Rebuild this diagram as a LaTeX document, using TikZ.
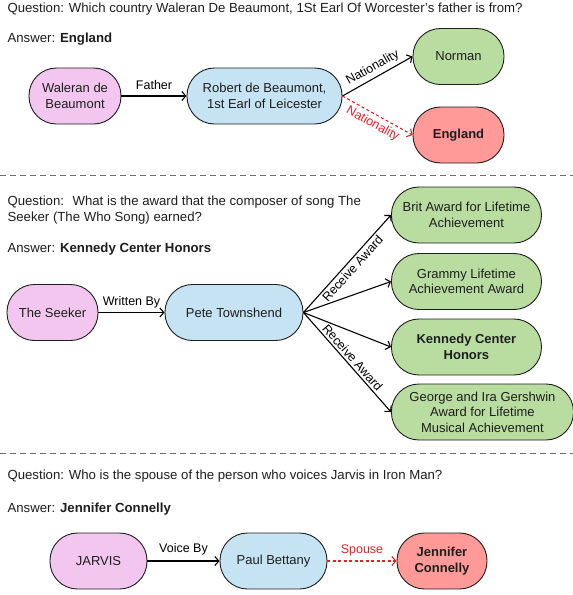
\documentclass[tikz,border=0pt]{standalone}
\usepackage{fontspec}
\setmainfont{Liberation Sans}
\usetikzlibrary{positioning,arrows.meta}

\definecolor{pinkfill}{RGB}{242,198,238}
\definecolor{bluefill}{RGB}{197,227,243}
\definecolor{greenfill}{RGB}{185,220,160}
\definecolor{redfill}{RGB}{255,154,152}
\definecolor{ansred}{RGB}{232,32,38}
\definecolor{sepgray}{RGB}{110,110,110}
\definecolor{inkgray}{RGB}{30,30,30}

\tikzset{
  entity/.style={draw=inkgray, line width=0.9pt, rounded corners=27.5pt,
    minimum height=56pt, inner sep=2pt, align=center, text=inkgray,
    font=\fontsize{13}{15.5}\selectfont},
  qtext/.style={anchor=west, inner sep=0pt, align=left, text=inkgray,
    font=\fontsize{13.2}{16}\selectfont},
  guess/.style={ansred, dash pattern=on 3pt off 2.5pt},
  divider/.style={sepgray, line width=1pt, dash pattern=on 6pt off 4pt}
}

\begin{document}
\begin{tikzpicture}[x=1pt, y=-1pt, line width=1.1pt,
    >={Straight Barb[length=4pt,width=9pt]},
    font=\fontsize{12.5}{15.5}\selectfont]
  \useasboundingbox (0,0) rectangle (573,595);

  % first question
  \node[qtext] (q1) at (7,9) {Question: Which country Waleran De Beaumont, 1St Earl Of Worcester's father is from?};
  \node[qtext] (a1) at (7,39) {Answer: \textbf{England}};

  \node[entity, fill=pinkfill, minimum width=92pt] (waleran) at (75,96) {Waleran de\\Beaumont};
  \node[entity, fill=bluefill, minimum width=155pt] (robert) [right of=waleran, node distance=189.5pt] {Robert de Beaumont,\\1st Earl of Leicester};
  \node[entity, fill=greenfill, minimum width=91pt] (norman) at (458.5,56.5) {Norman};
  \node[entity, fill=redfill, minimum width=91pt] (england) [below of=norman, node distance=78.5pt] {\textbf{England}};

  \draw[->] (waleran) to node[above=2pt] {Father} (robert);
  \draw[->] (robert.east) to node[sloped, above] {Nationality} (norman.west);
  \draw[->, guess] (robert.east) to node[sloped, below] {Nationality} (england.west);

  \draw[divider] (0,175) -- (573,175);

  % second question
  \node[qtext] (q2) at (7,210) {Question: \ What is the award that the composer of song The\\Seeker (The Who Song) earned?};
  \node[qtext] (a2) at (7,249) {Answer: \textbf{Kennedy Center Honors}};

  \node[entity, fill=pinkfill, minimum width=91pt] (seeker) at (52.5,312.5) {The Seeker};
  \node[entity, fill=bluefill, minimum width=138pt] (pete) [right of=seeker, node distance=181.5pt] {Pete Townshend};
  \node[entity, fill=greenfill, minimum width=150pt, anchor=west] (brit) at (391,215) {Brit Award for Lifetime\\Achievement};
  \node[entity, fill=greenfill, minimum width=150pt, anchor=west] (grammy) at (391,281.5) {Grammy Lifetime\\Achievement Award};
  \node[entity, fill=greenfill, minimum width=150pt, anchor=west] (kennedy) at (391,347) {\textbf{Kennedy Center}\\\textbf{Honors}};
  \node[entity, fill=greenfill, minimum width=182pt, anchor=west] (george) at (391,412) {George and Ira Gershwin\\Award for Lifetime\\Musical Achievement};

  \draw[->] (seeker) to node[above=1pt] {Written By} (pete);
  \draw[->] (pete.east) to node[sloped, below, inner sep=2pt] {Receive Award} (brit.west);
  \draw[->] (pete.east) to (grammy.west);
  \draw[->] (pete.east) to (kennedy.west);
  \draw[->] (pete.east) to node[sloped, above, inner sep=2pt] {Receive Award} (george.west);

  \draw[divider] (0,453) -- (573,453);

  % third question
  \node[qtext] (q3) at (7,476) {Question: Who is the spouse of the person who voices Jarvis in Iron Man?};
  \node[qtext] (a3) at (7,509) {Answer: \textbf{Jennifer Connelly}};

  \node[entity, fill=pinkfill, minimum width=97pt] (jarvis) at (98.5,561) {JARVIS};
  \node[entity, fill=bluefill, minimum width=107pt] (paul) [right of=jarvis, node distance=175pt] {Paul Bettany};
  \node[entity, fill=redfill, minimum width=90pt] (jennifer) [right of=paul, node distance=168.5pt] {\textbf{Jennifer}\\\textbf{Connelly}};

  \draw[->] (jarvis) to node[above=2pt] {Voice By} (paul);
  \draw[->, guess] (paul) to node[above=1pt] {Spouse} (jennifer);
\end{tikzpicture}
\end{document}
